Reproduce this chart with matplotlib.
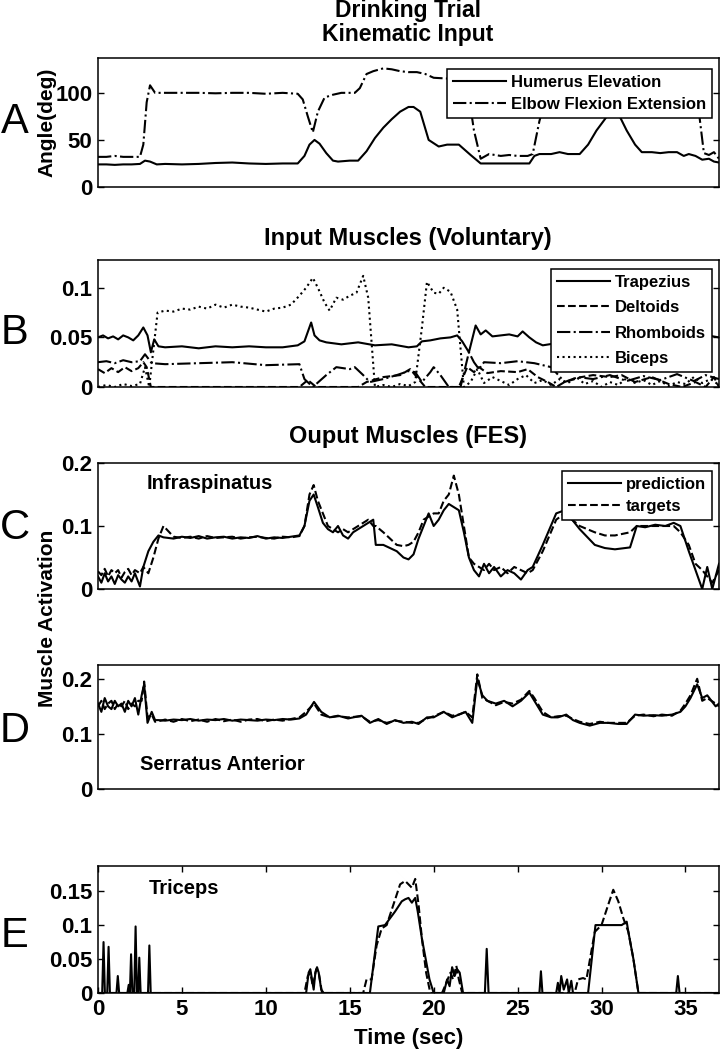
import matplotlib
matplotlib.use('Agg')
import matplotlib.pyplot as plt

# ---- data ----
# A: kinematic input (deg)
hum_t = [0, 0.5, 1, 1.5, 2, 2.5, 2.8, 3.1, 3.5, 4, 5, 6, 7, 8, 9, 10, 11, 11.9, 12.3, 12.6,
         12.9, 13.2, 13.6, 14.0, 14.3, 15.0, 15.5, 16.0, 16.5, 17.0, 17.5, 18.0, 18.5, 18.8, 19.2,
         19.7, 20.3, 20.8, 21.5, 22.2, 22.8, 24.0, 25.0, 25.7, 26.0, 26.3, 27.0, 27.5, 28.0, 28.7,
         29.2, 29.7, 30.2, 30.6, 31.0, 31.5, 32.0, 32.4, 33.0, 33.5, 34.0, 34.5, 34.9, 35.2, 35.6,
         36.0, 36.4, 36.7, 37]
hum_v = [24, 24, 23.5, 24, 24, 24.5, 28, 27, 24, 24.5, 24, 24.5, 25.5, 26, 25, 24.5, 25, 25, 33, 45,
         50, 46, 36, 28, 27, 28, 28, 38, 52, 63, 72, 80, 85, 85, 80,
         50, 43, 45, 45, 34, 25, 25, 25, 25, 33, 35, 35, 37, 35, 35,
         45, 60, 72, 82, 78, 60, 45, 37, 37, 36, 37, 37, 33, 35, 33,
         29, 30, 27, 26]
elb_t = [0, 0.5, 1.0, 1.5, 2.0, 2.5, 2.7, 2.9, 3.1, 3.4, 3.8, 5, 6, 7, 8, 9, 10, 11, 11.9, 12.2,
         12.5, 12.8, 13.1, 13.5, 14.0, 14.5, 15.3, 15.6, 16.0, 16.4, 17.0, 17.5, 18.0, 18.5, 19.0,
         19.5, 20.0, 21.0, 22.0, 22.4, 22.8, 23.3, 24.0, 24.5, 25.0, 25.6, 25.9, 26.3, 27, 30, 33,
         35.5, 35.8, 36.1, 36.4, 36.7, 37]
elb_v = [32, 32, 33, 32, 32, 32, 45, 90, 108, 100, 100, 100, 100, 99.5, 100, 100, 99, 100, 99, 93,
         75, 58, 80, 95, 98, 100, 100, 105, 120, 123, 126, 125, 123, 122, 122,
         120, 116, 115, 108, 60, 30, 35, 33, 34, 33, 33, 35, 70, 115, 118, 118,
         115, 80, 36, 34, 37, 30]

# B: input muscles (voluntary)
trap_t = [0, 0.3, 0.6, 0.9, 1.2, 1.5, 1.8, 2.1, 2.4, 2.7, 2.95, 3.15, 3.35, 3.6, 4.0, 5, 6, 7, 8, 9,
          10, 11, 11.9, 12.3, 12.7, 12.9, 13.2, 13.6, 14.5, 15.5, 16.5, 17.5, 18.5, 19.0, 19.3, 19.8,
          20.4, 21.0, 21.4, 21.7, 22.1, 22.5, 22.8, 23.1, 23.5, 24.0, 24.5, 25.0, 25.3, 25.7, 26.1,
          26.5, 28, 30, 32, 34, 35.5, 36.3, 37]
trap_v = [0.05, 0.052, 0.049, 0.051, 0.048, 0.052, 0.05, 0.047, 0.052, 0.06, 0.052, 0.035, 0.048,
          0.041, 0.04, 0.041, 0.039, 0.041, 0.04, 0.041, 0.04, 0.04, 0.042, 0.046, 0.065, 0.052,
          0.047, 0.045, 0.043, 0.045, 0.042, 0.043, 0.04, 0.041, 0.046, 0.047, 0.049, 0.05, 0.052,
          0.046, 0.035, 0.062, 0.053, 0.057, 0.051, 0.052, 0.053, 0.051, 0.056, 0.05, 0.045, 0.042,
          0.046, 0.048, 0.047, 0.05, 0.048, 0.052, 0.05]
delt_t = [0, 0.4, 0.8, 1.2, 1.6, 2.0, 2.4, 2.7, 2.9, 3.15, 5, 10, 12.0, 12.5, 13.0, 15.5, 16.0, 17.0,
          18.0, 18.6, 19.0, 19.5, 21.5, 22.0, 22.4, 22.7, 23.2, 24.0, 25.0, 25.6, 26.2, 26.8, 27.3,
          27.8, 28.8, 29.5, 30.5, 31.2, 32.0, 33.0, 34.0, 34.8, 35.6, 36.2, 36.7, 37]
delt_v = [0.018, 0.014, 0.019, 0.015, 0.02, 0.016, 0.019, 0.025, 0.02, 0, 0, 0, 0, 0.007, 0, 0,
          0.005, 0.01, 0.012, 0.018, 0.01, 0, 0, 0.02, 0.015, 0.02, 0.014, 0.016, 0.015, 0.018,
          0.01, 0.005, 0, 0.005, 0.01, 0.012, 0.01, 0.012, 0.005, 0.01, 0.003, 0, 0.005, 0, 0.01, 0]
rhom_t = [0, 0.5, 1.0, 1.5, 2.0, 2.5, 2.8, 3.2, 4, 6, 8, 10, 12.0, 12.3, 12.8, 13.6, 14.2, 15.0,
          15.3, 15.8, 16.2, 17.0, 17.8, 18.5, 18.9, 19.3, 19.8, 20.0, 20.4, 20.9, 21.6, 22.1, 22.4,
          22.7, 23.0, 24.0, 25.0, 26.0, 27.0, 27.8, 28.6, 29.5, 30.5, 31.5, 32.5, 33.5, 34.5, 35.5,
          36.2, 37]
rhom_v = [0.025, 0.026, 0.024, 0.027, 0.025, 0.026, 0.033, 0.024, 0.023, 0.024, 0.025, 0.022, 0.023,
          0.008, 0, 0.012, 0.02, 0.018, 0.02, 0.012, 0.005, 0.008, 0.012, 0.016, 0.015, 0.005,
          0.015, 0.02, 0.012, 0, 0, 0.035, 0.025, 0.018, 0.025, 0.024, 0.026, 0.024, 0.02, 0.005,
          0.01, 0.008, 0.012, 0.006, 0.011, 0.007, 0.013, 0.006, 0.012, 0.008]
bic_t = [0, 0.5, 1.0, 1.5, 2.0, 2.5, 2.8, 3.05, 3.55, 4.0, 4.5, 5.0, 5.5, 6.0, 6.5, 7.0, 7.5, 8.0,
         8.5, 9.0, 9.5, 10.0, 10.5, 11.0, 11.5, 12.0, 12.4, 12.8, 13.1, 13.5, 13.8, 14.2, 14.6, 15.0,
         15.4, 15.8, 16.1, 16.5, 17.0, 17.5, 18.0, 18.5, 18.9, 19.3, 19.6, 20.0, 20.3, 20.6, 21.0,
         21.4, 21.8, 22.2, 22.6, 23.0, 23.5, 24.0, 24.5, 25.0, 25.5, 26.0, 26.5, 27.0, 27.5, 28.0,
         28.5, 29.0, 29.5, 30.0, 30.5, 31.0, 31.5, 32.0, 32.5, 33.0, 33.5, 34.0, 34.5, 35.0, 35.5,
         36.0, 36.5, 37.0]
bic_v = [0, 0.002, 0, 0.003, 0.001, 0.003, 0.02, 0, 0.075, 0.077, 0.076, 0.079, 0.078, 0.081, 0.079,
         0.083, 0.08, 0.083, 0.081, 0.08, 0.078, 0.076, 0.079, 0.08, 0.083, 0.092, 0.1, 0.11, 0.1,
         0.085, 0.077, 0.09, 0.088, 0.092, 0.095, 0.112, 0.09, 0, 0.002, 0, 0.003, 0.001, 0.005, 0.06,
         0.106, 0.095, 0.094, 0.1, 0.096, 0.078, 0, 0.005, 0.018, 0.004, 0.01, 0.006, 0.002, 0.008,
         0.012, 0.004, 0.007, 0.002, 0.008, 0.004, 0.01, 0.003, 0.006, 0, 0.005, 0.002, 0.009, 0.004,
         0.007, 0.002, 0.006, 0.001, 0.005, 0.003, 0.01, 0.004, 0.008, 0.002]

# C: infraspinatus
infra_t = [0, 0.2, 0.4, 0.6, 0.8, 1.0, 1.2, 1.4, 1.6, 1.8, 2.0, 2.2, 2.5, 2.7, 3.0, 3.3, 3.6, 3.9,
           4.5, 5.0, 5.5, 6.0, 6.5, 7.0, 7.5, 8.0, 8.5, 9.0, 9.5, 10.0, 10.5, 11.0, 11.5, 12.0,
           12.3, 12.6, 12.85, 13.1, 13.4, 13.7, 14.0, 14.3, 14.6, 14.9, 15.2, 15.5, 15.8, 16.1,
           16.4, 16.55, 17.0, 17.4, 17.8, 18.2, 18.5, 18.8, 19.1, 19.4, 19.7, 20.0, 20.3, 20.6,
           20.9, 21.2, 21.5, 21.8, 22.1, 22.4, 22.7, 23.0, 23.3, 23.6, 24.0, 24.4, 24.8, 25.2,
           25.6, 25.9, 26.5, 27.3, 27.8, 28.7, 29.6, 30.2, 30.8, 31.7, 32.1, 32.6, 33.2, 33.8,
           34.3, 34.7, 35.2, 35.6, 36.0, 36.3, 36.6, 37.0]
infra_pred = [0.02, 0.01, 0.025, 0.012, 0.02, 0.008, 0.022, 0.015, 0.01, 0.02, 0.012, 0.025, 0.004,
              0.035, 0.06, 0.075, 0.085, 0.082, 0.08, 0.083, 0.081, 0.084, 0.08, 0.082, 0.083, 0.08,
              0.082, 0.081, 0.084, 0.08, 0.082, 0.081, 0.083, 0.085, 0.1, 0.14, 0.15, 0.13, 0.105,
              0.095, 0.09, 0.1, 0.085, 0.08, 0.09, 0.095, 0.1, 0.105, 0.11, 0.07, 0.07, 0.065, 0.06,
              0.05, 0.047, 0.055, 0.08, 0.1, 0.12, 0.1, 0.11, 0.125, 0.135, 0.13, 0.125, 0.09, 0.05,
              0.03, 0.02, 0.04, 0.025, 0.035, 0.02, 0.03, 0.025, 0.015, 0.03, 0.035, 0.07, 0.12,
              0.125, 0.095, 0.07, 0.065, 0.063, 0.066, 0.1, 0.098, 0.102, 0.1, 0.105, 0.1, 0.06,
              0.03, 0.0, 0.035, 0.0, 0.04]
infra_targ = [0.028, 0.022, 0.032, 0.02, 0.03, 0.025, 0.03, 0.018, 0.027, 0.032, 0.022, 0.03, 0.025,
              0.035, 0.025, 0.05, 0.08, 0.1, 0.083, 0.081, 0.083, 0.08, 0.084, 0.081, 0.082, 0.083,
              0.08, 0.082, 0.083, 0.081, 0.08, 0.083, 0.082, 0.084, 0.1, 0.15, 0.165, 0.14, 0.12,
              0.1, 0.095, 0.09, 0.095, 0.09, 0.095, 0.1, 0.105, 0.11, 0.1, 0.1, 0.09, 0.08, 0.07,
              0.068, 0.07, 0.075, 0.09, 0.11, 0.115, 0.12, 0.12, 0.14, 0.15, 0.18, 0.15, 0.1, 0.05,
              0.04, 0.035, 0.03, 0.04, 0.03, 0.035, 0.025, 0.035, 0.03, 0.025, 0.03, 0.06, 0.11,
              0.12, 0.1, 0.09, 0.085, 0.085, 0.09, 0.1, 0.1, 0.1, 0.1, 0.1, 0.09, 0.07, 0.04, 0.03,
              0.02, 0.01, 0.03]

# D: serratus anterior
serr_t = [0, 0.2, 0.4, 0.6, 0.8, 1.0, 1.2, 1.4, 1.6, 1.8, 2.0, 2.2, 2.4, 2.6, 2.75, 2.95, 3.2, 3.4,
          3.6, 4.0, 4.5, 5.0, 5.5, 6.0, 6.5, 7.0, 7.5, 8.0, 8.5, 9.0, 9.5, 10.0, 10.5, 11.0, 11.5,
          12.0, 12.4, 12.87, 13.3, 13.8, 14.3, 14.9, 15.7, 16.2, 16.7, 17.2, 17.7, 18.2, 18.7, 19.1,
          19.6, 20.0, 20.6, 21.1, 21.5, 21.9, 22.3, 22.6, 22.9, 23.2, 23.7, 24.2, 24.7, 25.2, 25.7,
          26.0, 26.5, 27.0, 27.4, 27.9, 28.3, 28.7, 29.3, 29.9, 30.4, 31.0, 31.5, 32.0, 32.5, 33.1,
          33.6, 34.2, 34.7, 35.0, 35.3, 35.7, 36.0, 36.3, 36.8, 37]
serr_pred = [0.155, 0.14, 0.165, 0.15, 0.145, 0.16, 0.15, 0.155, 0.14, 0.16, 0.15, 0.165, 0.135,
             0.17, 0.19, 0.12, 0.14, 0.125, 0.125, 0.124, 0.126, 0.125, 0.127, 0.124, 0.126, 0.125,
             0.127, 0.124, 0.126, 0.125, 0.124, 0.126, 0.125, 0.127, 0.126, 0.128, 0.135, 0.158,
             0.14, 0.13, 0.133, 0.128, 0.133, 0.12, 0.127, 0.118, 0.125, 0.12, 0.122, 0.118, 0.13,
             0.13, 0.14, 0.13, 0.135, 0.14, 0.12, 0.2, 0.17, 0.16, 0.155, 0.16, 0.15, 0.16, 0.175,
             0.16, 0.135, 0.13, 0.13, 0.135, 0.125, 0.12, 0.115, 0.12, 0.12, 0.118, 0.118, 0.135,
             0.133, 0.134, 0.133, 0.135, 0.14, 0.15, 0.165, 0.19, 0.165, 0.17, 0.15, 0.155]
serr_targ = [0.15, 0.16, 0.145, 0.155, 0.16, 0.145, 0.155, 0.15, 0.16, 0.145, 0.155, 0.15, 0.16,
             0.16, 0.195, 0.13, 0.135, 0.122, 0.123, 0.126, 0.122, 0.127, 0.123, 0.126, 0.122,
             0.127, 0.123, 0.126, 0.122, 0.126, 0.127, 0.123, 0.126, 0.124, 0.127, 0.13, 0.14,
             0.155, 0.135, 0.13, 0.132, 0.13, 0.132, 0.122, 0.125, 0.12, 0.124, 0.122, 0.12, 0.12,
             0.128, 0.132, 0.14, 0.133, 0.135, 0.14, 0.13, 0.208, 0.165, 0.16, 0.152, 0.158, 0.155,
             0.162, 0.178, 0.165, 0.14, 0.13, 0.132, 0.133, 0.127, 0.122, 0.118, 0.122, 0.12, 0.12,
             0.12, 0.133, 0.135, 0.132, 0.135, 0.133, 0.142, 0.155, 0.17, 0.2, 0.16, 0.165, 0.155,
             0.15]

# E: triceps
tri_pred_t = [0, 0.25, 0.33, 0.41, 0.55, 0.63, 0.71, 1.1, 1.18, 1.26, 1.75, 1.83, 1.9, 1.97, 2.05,
              2.16, 2.24, 2.32, 2.4, 2.46, 2.54, 2.98, 3.06, 3.14, 12.4, 12.55, 12.65, 12.75, 12.85,
              12.95, 13.05, 13.15, 13.3, 13.45, 16.2, 16.7, 17.1, 17.4, 17.7, 18.1, 18.3, 18.5,
              18.7, 18.9, 19.05, 19.3, 19.6, 19.75, 20.0, 20.6, 20.8, 20.95, 21.1, 21.25, 21.4,
              21.55, 21.75, 23.05, 23.16, 23.27, 26.3, 26.39, 26.48, 27.3, 27.4, 27.5, 27.6, 27.75,
              27.95, 28.05, 28.2, 28.3, 29.2, 29.64, 30.2, 30.8, 31.2, 31.5, 31.6, 31.9, 32.2, 34.45,
              34.55, 34.65, 37]
tri_pred = [0, 0, 0.075, 0, 0, 0.068, 0, 0, 0.025, 0, 0, 0.012, 0, 0.057, 0, 0, 0.098, 0, 0, 0.052,
            0, 0, 0.07, 0, 0, 0.03, 0.035, 0.02, 0.005, 0.03, 0.038, 0.03, 0.005, 0, 0, 0.098, 0.1,
            0.11, 0.12, 0.135, 0.138, 0.14, 0.133, 0.14, 0.12, 0.08, 0.04, 0.02, 0, 0, 0.02, 0.01,
            0.038, 0.025, 0.035, 0.03, 0, 0, 0.065, 0, 0, 0.032, 0, 0, 0.015, 0, 0.025, 0.005, 0.02,
            0, 0.018, 0, 0, 0.1, 0.1, 0.1, 0.1, 0.105, 0.09, 0.05, 0, 0, 0.025, 0, 0]
tri_targ_t = [0, 12.3, 12.5, 12.65, 12.8, 13.0, 13.15, 13.35, 15.8, 16.0, 16.3, 16.6, 16.9, 17.2,
              17.6, 18.0, 18.3, 18.5, 18.7, 18.9, 19.1, 19.3, 19.55, 19.8, 20.5, 20.75, 21.0,
              21.15, 21.35, 21.5, 21.7, 28.4, 28.6, 28.9, 29.1, 29.6, 30.0, 30.4, 30.7, 31.0,
              31.3, 31.6, 31.9, 32.2, 37]
tri_targ = [0, 0, 0.025, 0.03, 0.01, 0.035, 0.03, 0, 0, 0.02, 0.02, 0.07, 0.095, 0.1, 0.13, 0.16,
            0.165, 0.16, 0.155, 0.168, 0.13, 0.08, 0.03, 0, 0, 0.015, 0.03, 0.02, 0.04, 0.02, 0,
            0, 0.02, 0.022, 0.02, 0.09, 0.1, 0.13, 0.152, 0.135, 0.11, 0.09, 0.05, 0, 0]

# ---- figure ----
plt.rcParams['font.family'] = ['Liberation Sans', 'DejaVu Sans']
plt.rcParams['font.weight'] = 'bold'
plt.rcParams['axes.labelweight'] = 'bold'

fig = plt.figure(figsize=(7.21, 10.5), dpi=100)
W, H = 721.0, 1050.0
LW = 1.5


def make_axes(top, bottom):
    return fig.add_axes([98 / W, 1 - bottom / H, 621 / W, (bottom - top) / H])


def style(ax, ylim, yticks, ylabels):
    ax.set_xlim(0, 37)
    ax.set_ylim(*ylim)
    ax.set_yticks(yticks)
    ax.set_yticklabels(ylabels)
    ax.tick_params(direction='in', length=4, width=1, right=True, labelsize=16, pad=4)
    for sp in ax.spines.values():
        sp.set_linewidth(1.1)


def legend(ax, top, spacing=0.45):
    leg = ax.legend(loc='upper right', bbox_to_anchor=(0.989, top), fontsize=12,
                    fancybox=False, framealpha=1, edgecolor='black', handlelength=3.2,
                    borderaxespad=0, labelspacing=spacing, handletextpad=0.3, borderpad=0.35)
    leg.get_frame().set_linewidth(1.1)
    return leg


# A
axA = make_axes(58, 187)
axA.plot(hum_t, hum_v, 'k-', lw=LW, label='Humerus Elevation')
axA.plot(elb_t, elb_v, 'k-.', lw=LW, label='Elbow Flexion Extension')
style(axA, (0, 137), [0, 50, 100], ['0', '50', '100'])
axA.set_xticks([])
axA.set_ylabel('Angle(deg)', fontsize=15)
axA.yaxis.set_label_coords((56 - 98) / 621, 0.5)
legend(axA, 0.915)
fig.text(408 / W, 1 - 11 / H, 'Drinking Trial', ha='center', va='center', fontsize=16.5)
fig.text(408 / W, 1 - 34 / H, 'Kinematic Input', ha='center', va='center', fontsize=16.5)

# B
axB = make_axes(260, 387)
axB.plot(trap_t, trap_v, 'k-', lw=LW, label='Trapezius')
axB.plot(delt_t, delt_v, 'k--', lw=LW, label='Deltoids')
axB.plot(rhom_t, rhom_v, 'k-.', lw=LW, label='Rhomboids')
axB.plot(bic_t, bic_v, 'k:', lw=LW, label='Biceps')
style(axB, (0, 0.128), [0, 0.05, 0.1], ['0', '0.05', '0.1'])
axB.set_xticks([])
legend(axB, 0.929, spacing=0.62)
fig.text(408 / W, 1 - 238 / H, 'Input Muscles (Voluntary)', ha='center', va='center', fontsize=17)

# C
axC = make_axes(463, 589)
axC.plot(infra_t, infra_pred, 'k-', lw=LW, label='prediction')
axC.plot(infra_t, infra_targ, 'k--', lw=LW, label='targets')
style(axC, (0, 0.2), [0, 0.1, 0.2], ['0', '0.1', '0.2'])
axC.set_xticks([])
legend(axC, 0.937)
axC.text(2.92, 0.168, 'Infraspinatus', fontsize=14.5, va='center')
fig.text(408 / W, 1 - 437 / H, 'Ouput Muscles (FES)', ha='center', va='center', fontsize=17)

# D
axD = make_axes(665, 789)
axD.plot(serr_t, serr_pred, 'k-', lw=LW)
axD.plot(serr_t, serr_targ, 'k--', lw=LW)
style(axD, (0, 0.225), [0, 0.1, 0.2], ['0', '0.1', '0.2'])
axD.set_xticks([])
axD.text(2.5, 0.045, 'Serratus Anterior', fontsize=14.5, va='center')

fig.text(48 / W, 1 - 618 / H, 'Muscle Activation', rotation=90, ha='center', va='center',
         fontsize=15)

# E
axE = make_axes(866, 993)
axE.plot(tri_pred_t, tri_pred, 'k-', lw=LW)
axE.plot(tri_targ_t, tri_targ, 'k--', lw=LW)
style(axE, (0, 0.187), [0, 0.05, 0.1, 0.15], ['0', '0.05', '0.1', '0.15'])
axE.set_xticks(range(0, 36, 5))
axE.tick_params(axis='x', top=True)
axE.text(3.04, 0.154, 'Triceps', fontsize=14.5, va='center')
axE.set_xlabel('Time (sec)', fontsize=16, labelpad=6)

# panel letters
for letter, yc in [('A', 122), ('B', 333), ('C', 528), ('D', 731), ('E', 936)]:
    fig.text(15 / W, 1 - yc / H, letter, fontsize=30, fontweight='normal', ha='center', va='center')

fig.savefig('out.png', dpi=100)
